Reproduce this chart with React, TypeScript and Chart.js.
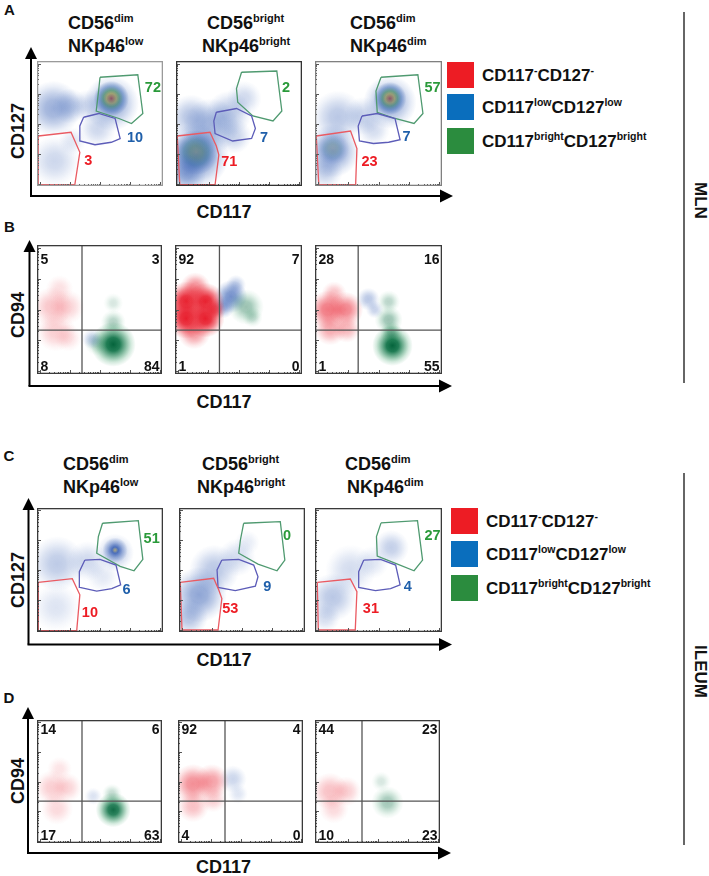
import { useEffect, useRef } from "react";
import { Chart, registerables } from "chart.js";

Chart.register(...registerables);

// [x, y, spread, density] in channel units (0-100)
type Cloud = [number, number, number, number];
type Pt = [number, number];

// ---------- data ----------
const TITLES = [
  ["CD56", "dim", "NKp46", "low"],
  ["CD56", "bright", "NKp46", "bright"],
  ["CD56", "dim", "NKp46", "dim"],
];
const LEGEND = [
  ["CD117", "-", "CD127", "-"],
  ["CD117", "low", "CD127", "low"],
  ["CD117", "bright", "CD127", "bright"],
];

// red, blue, green gate %
const GATE_PCT_A = [[3, 10, 72], [71, 7, 2], [23, 7, 57]];
const GATE_PCT_C = [[10, 6, 51], [53, 9, 0], [31, 4, 27]];

// UL, UR, LL, LR
const QUAD_B = [[5, 3, 8, 84], [92, 7, 1, 0], [28, 16, 1, 55]];
const QUAD_D = [[14, 6, 17, 63], [92, 4, 4, 0], [44, 23, 10, 23]];
const QUAD_CUT_B: Pt[] = [[36, 34], [35, 34], [34, 34]];
const QUAD_CUT_D: Pt[] = [[36, 34], [37.6, 34], [37.6, 34]];

// gates [red, blue, green]
const GATES_A: Pt[][][] = [
  [
    [[1, 40], [27, 43], [34, 27], [30, 1], [1, 1]],
    [[37, 55], [49, 58], [62, 54], [66, 38], [59, 35], [46, 33], [34, 36], [34, 48]],
    [[50, 87], [80, 89], [84, 58], [75, 50], [65, 54], [47, 60], [49, 77]],
  ],
  [
    [[1, 40], [27, 43], [32, 32], [34, 25], [31, 1], [3, 1]],
    [[32, 59], [48, 62], [60, 56], [63, 46], [60, 38], [45, 36], [31, 42], [30, 52]],
    [[52, 91], [80, 92], [84, 60], [77, 52], [61, 56], [49, 67], [48, 78]],
  ],
  [
    [[1, 40], [28, 44], [33, 30], [32, 1], [3, 1]],
    [[37, 56], [49, 58], [63, 54], [67, 37], [58, 35], [46, 34], [35, 36], [34, 48]],
    [[52, 87], [81, 89], [85, 58], [78, 50], [63, 54], [49, 59], [48, 76]],
  ],
];
const GATES_C: Pt[][][] = [
  [
    [[1, 40], [28, 43], [34, 30], [31.5, 1], [1, 1]],
    [[38, 58], [50, 58.6], [62.7, 54], [66.4, 38], [59.3, 35], [47.4, 33], [34, 36], [33.6, 48.6]],
    [[52, 87.7], [80.4, 89.8], [84, 58.6], [77, 49.4], [66, 53], [47.4, 63.5], [48.7, 77]],
  ],
  [
    [[1, 40], [27.5, 43.3], [31.5, 34], [34, 27], [31, 1.6], [2.4, 1.6]],
    [[34, 58], [47.4, 58.6], [59.3, 54], [62.7, 44.6], [60.6, 37], [44.7, 33.3], [31, 36], [30.2, 50]],
    [[51.3, 87.7], [80.4, 89], [84, 58], [77.8, 49.4], [62.7, 54.8], [47.4, 63.5], [48.7, 74]],
  ],
  [
    [[1.8, 40], [27.8, 42.7], [33, 32.5], [31.7, 1.6], [2.6, 1.6]],
    [[38.4, 58], [51.6, 58.6], [63.5, 54], [67, 38], [59.5, 35], [47.6, 33.3], [34.4, 36], [34.4, 48.6]],
    [[52, 88], [80.7, 89.8], [84.7, 58], [78, 49.4], [63.5, 55.4], [49, 61.3], [48.4, 77]],
  ],
];

// population clouds per plot
const CLOUDS_A: Record<string, Cloud[]>[] = [
  {
    blue: [
      [13, 62, 22, 0.5], [26, 64, 14, 0.32], [40, 64, 13, 0.24], [59, 66, 22, 0.55], [14, 20, 20, 0.25],
      [48, 46, 15, 0.25], [28, 36, 11, 0.15],
    ],
    hot: [[59, 70, 14, 1]],
  },
  {
    blue: [
      [16, 24, 26, 0.7], [8, 10, 16, 0.5], [28, 48, 22, 0.45], [12, 55, 18, 0.38], [42, 58, 18, 0.35],
      [54, 70, 14, 0.24], [46, 40, 14, 0.28],
    ],
    warm: [[16, 27, 18, 1]],
  },
  {
    blue: [
      [59, 67, 21, 0.55], [14, 28, 21, 0.6], [8, 12, 14, 0.32], [18, 55, 21, 0.35], [38, 56, 15, 0.28],
      [46, 45, 13, 0.22],
    ],
    warm: [[14, 30, 13, 0.45]],
    hot: [[59, 70, 13, 1]],
  },
];
const CLOUDS_B: Record<string, Cloud[]>[] = [
  {
    red: [[12, 52, 16, 0.26], [24, 52, 14, 0.2], [15, 33, 16, 0.22], [25, 28, 11, 0.14], [18, 66, 11, 0.14]],
    blue: [[44, 27, 8, 0.3]],
    green: [[61, 23, 18, 1], [61, 40, 10, 0.3], [61, 55, 8, 0.16], [48, 24, 10, 0.24]],
  },
  {
    red: [
      [9, 56, 16, 1], [24, 56, 15, 1], [9, 43, 16, 1], [24, 43, 15, 1], [15, 32, 13, 0.45],
      [16, 67, 12, 0.5], [31, 50, 9, 0.65],
    ],
    green: [[56, 52, 14, 0.4], [61, 44, 8, 0.24]],
    blue: [[44, 60, 13, 0.7], [38, 52, 9, 0.5], [48, 69, 8, 0.32]],
  },
  {
    red: [[10, 50, 15, 0.6], [24, 50, 14, 0.55], [12, 35, 13, 0.38], [25, 35, 11, 0.32], [15, 62, 10, 0.28]],
    blue: [[42, 58, 9, 0.35], [47, 50, 7, 0.28]],
    green: [[61, 22, 16, 1], [58, 42, 11, 0.4], [58, 56, 9, 0.28], [60, 32, 9, 0.42]],
  },
];
const CLOUDS_C: Record<string, Cloud[]>[] = [
  {
    blue: [[16, 55, 22, 0.33], [40, 57, 16, 0.24], [15, 20, 19, 0.17], [52, 45, 13, 0.14], [62, 64, 15, 0.35]],
    cool: [[62, 66, 10, 0.9]],
  },
  {
    blue: [[16, 30, 22, 0.56], [8, 12, 15, 0.38], [28, 50, 20, 0.35], [46, 60, 15, 0.22], [54, 72, 10, 0.12]],
  },
  {
    blue: [[14, 28, 19, 0.35], [8, 12, 12, 0.22], [28, 50, 20, 0.22], [45, 56, 13, 0.16], [60, 68, 14, 0.3]],
  },
];
const CLOUDS_D: Record<string, Cloud[]>[] = [
  {
    red: [[12, 45, 14, 0.22], [24, 45, 12, 0.19], [16, 28, 13, 0.17], [18, 60, 10, 0.12]],
    blue: [[45, 38, 7, 0.18]],
    green: [[61, 27, 14, 0.95], [60, 40, 8, 0.24]],
  },
  {
    red: [[12, 48, 16, 0.5], [27, 50, 14, 0.42], [12, 30, 13, 0.28], [28, 36, 11, 0.22]],
    blue: [[44, 52, 11, 0.26], [48, 40, 8, 0.16]],
  },
  {
    red: [[12, 42, 15, 0.28], [25, 42, 12, 0.22], [15, 28, 12, 0.17]],
    green: [[58, 33, 13, 0.37], [53, 50, 8, 0.16]],
  },
];

// log-style axis ticks
const DECADES = [2, 26, 50, 74];
const LOG_FRACTIONS = [0.301, 0.477, 0.602, 0.699, 0.778, 0.845, 0.903, 0.954];

// ---------- layout / style ----------
const FONT = '"Liberation Sans", Arial, Helvetica, sans-serif';
const GATE_LINE = ["#ea5a62", "#5c5cb8", "#4f9a70"];
const GATE_TEXT = ["#ed1c24", "#1f5faa", "#2a9a3a"];
const LEGEND_FILL = ["#ed1c24", "#0a6ebd", "#2b8c3e"];

// soft, roughly gaussian falloff
const PALETTES: Record<string, [number, string, number][]> = {
  blue: [[0, "55,95,180", 1], [0.3, "58,98,181", 0.88], [0.55, "62,102,184", 0.58], [0.8, "70,110,190", 0.22], [1, "70,110,190", 0]],
  red: [[0, "232,30,45", 1], [0.3, "232,32,47", 0.9], [0.55, "234,40,55", 0.6], [0.8, "236,60,70", 0.22], [1, "236,60,70", 0]],
  green: [[0, "5,100,60", 1], [0.3, "8,110,66", 0.9], [0.55, "20,125,75", 0.55], [0.8, "40,150,90", 0.2], [1, "40,150,90", 0]],
  hot: [
    [0, "228,70,30", 1], [0.12, "242,140,40", 1], [0.28, "240,210,50", 0.95], [0.46, "110,185,80", 0.85],
    [0.7, "55,110,175", 0.45], [1, "55,95,180", 0],
  ],
  warm: [[0, "232, 222, 70", 0.9], [0.28, "160,200,70", 0.85], [0.55, "60,140,120", 0.55], [0.8, "55,95,180", 0.2], [1, "55,95,180", 0]],
  cool: [[0, "225,195,70", 0.9], [0.25, "45,85,175", 0.9], [0.6, "55,95,180", 0.4], [1, "55,95,180", 0]],
};

const BOX_A = [[37, 61, 126, 125], [176, 61, 126, 125], [315, 61, 127, 125]];
const BOX_B = [[37, 245, 125, 129], [175, 245, 127, 129], [315, 245, 127, 129]];
const BOX_C = [[37, 508, 126, 124], [179, 508, 126, 124], [315, 508, 127, 124]];
const BOX_D = [[37, 720, 125, 123], [178, 720, 125, 123], [315, 720, 125, 123]];
const FRAME_A = ["#9a9a9a", "#333", "#808080"];

const LABEL_AT_A: Pt[][] = [
  [[40.7, 20.6], [77.8, 39], [92, 79]],
  [[42.3, 20], [69.8, 39], [87.3, 79]],
  [[43, 20], [72, 40], [92.6, 79]],
];
const LABEL_AT_C: Pt[][] = [
  [[42, 16], [71, 35], [91, 75.5]],
  [[40.7, 19], [70, 37], [85.7, 78]],
  [[44, 19], [73, 37], [92.6, 78]],
];

type PlotSpec = {
  box: number[];
  frame: string;
  clouds: Record<string, Cloud[]>;
  gates?: Pt[][];
  gatePct?: number[];
  labelAt?: Pt[];
  cut?: Pt;
  quad?: number[];
  quadTop?: number;
};

const PLOTS: PlotSpec[] = [
  ...BOX_A.map((box, i) => ({
    box, frame: FRAME_A[i], clouds: CLOUDS_A[i], gates: GATES_A[i], gatePct: GATE_PCT_A[i], labelAt: LABEL_AT_A[i],
  })),
  ...BOX_B.map((box, i) => ({
    box, frame: "#3a3a3a", clouds: CLOUDS_B[i], cut: QUAD_CUT_B[i], quad: QUAD_B[i], quadTop: 18.5,
  })),
  ...BOX_C.map((box, i) => ({
    box, frame: "#3a3a3a", clouds: CLOUDS_C[i], gates: GATES_C[i], gatePct: GATE_PCT_C[i], labelAt: LABEL_AT_C[i],
  })),
  ...BOX_D.map((box, i) => ({
    box, frame: "#3a3a3a", clouds: CLOUDS_D[i], cut: QUAD_CUT_D[i], quad: QUAD_D[i], quadTop: 13.5,
  })),
];

function cloudFill(ctx: any, key: string) {
  const chart = ctx.chart;
  const raw = ctx.raw;
  if (!raw || !chart.chartArea) return "rgba(0,0,0,0)";
  const cx = chart.scales.x.getPixelForValue(raw.x);
  const cy = chart.scales.y.getPixelForValue(raw.y);
  const r = Math.max(1, raw.r);
  const g = chart.ctx.createRadialGradient(cx, cy, 0, cx, cy, r);
  PALETTES[key].forEach(([o, c, a]) => g.addColorStop(o, `rgba(${c},${a * raw.a})`));
  return g;
}

function framePlugin(spec: PlotSpec) {
  return {
    id: "frame",
    afterDatasetsDraw(chart: any) {
      const { ctx, chartArea: ca, scales } = chart;
      ctx.save();
      ctx.strokeStyle = "#555";
      ctx.lineWidth = 1;
      ctx.beginPath();
      const ticks: [number, boolean][] = [];
      DECADES.forEach((d) => {
        ticks.push([d, true]);
        LOG_FRACTIONS.forEach((f) => ticks.push([d + f * 24, false]));
      });
      ticks.push([98, true]);
      ticks.forEach(([v, major]) => {
        const len = major ? 4 : 2;
        const px = Math.round(scales.x.getPixelForValue(v)) + 0.5;
        ctx.moveTo(px, ca.bottom);
        ctx.lineTo(px, ca.bottom - len);
        const py = Math.round(scales.y.getPixelForValue(v)) + 0.5;
        ctx.moveTo(ca.left, py);
        ctx.lineTo(ca.left + len, py);
      });
      ctx.stroke();

      ctx.strokeStyle = spec.frame;
      ctx.lineWidth = 1.3;
      ctx.strokeRect(ca.left + 0.65, ca.top + 0.65, ca.width - 1.3, ca.height - 1.3);

      if (spec.gatePct && spec.labelAt) {
        ctx.font = `bold 14.5px ${FONT}`;
        ctx.textAlign = "center";
        ctx.textBaseline = "middle";
        spec.gatePct.forEach((p, i) => {
          const [lx, ly] = spec.labelAt![i];
          ctx.fillStyle = GATE_TEXT[i];
          ctx.fillText(String(p), scales.x.getPixelForValue(lx), scales.y.getPixelForValue(ly) + 1);
        });
      }
      if (spec.quad) {
        ctx.font = `bold 14px ${FONT}`;
        ctx.fillStyle = "#111";
        ctx.textBaseline = "alphabetic";
        const [ul, ur, ll, lr] = spec.quad;
        const top = ca.top + (spec.quadTop ?? 18);
        const bot = ca.bottom - 3.5;
        ctx.textAlign = "left";
        ctx.fillText(String(ul), ca.left + 3.5, top);
        ctx.fillText(String(ll), ca.left + 3.5, bot);
        ctx.textAlign = "right";
        ctx.fillText(String(ur), ca.right - 2.5, top);
        ctx.fillText(String(lr), ca.right - 2.5, bot);
      }
      ctx.restore();
    },
  };
}

function FlowPlot({ spec }: { spec: PlotSpec }) {
  const canvasRef = useRef<HTMLCanvasElement>(null);
  const [left, top, w, h] = spec.box;

  useEffect(() => {
    if (!canvasRef.current) return;
    const pxPerUnit = w / 100;
    const datasets: any[] = [];
    Object.entries(spec.clouds).forEach(([key, list]) => {
      datasets.push({
        type: "bubble",
        data: list.map(([x, y, s, a]) => ({ x, y, r: s * pxPerUnit, a })),
        backgroundColor: (c: any) => cloudFill(c, key),
        borderWidth: 0,
        clip: 0,
        order: 2,
      });
    });
    (spec.gates || []).forEach((poly, i) => {
      datasets.push({
        type: "line",
        data: [...poly, poly[0]].map(([x, y]) => ({ x, y })),
        borderColor: GATE_LINE[i],
        borderWidth: 1.3,
        pointRadius: 0,
        fill: false,
        tension: 0,
        order: 0,
      });
    });
    if (spec.cut) {
      const [qx, qy] = spec.cut;
      [
        [{ x: qx, y: 0 }, { x: qx, y: 100 }],
        [{ x: 0, y: qy }, { x: 100, y: qy }],
      ].forEach((data) =>
        datasets.push({
          type: "line",
          data,
          borderColor: "#555",
          borderWidth: 1.3,
          pointRadius: 0,
          fill: false,
          order: 0,
        }),
      );
    }

    const chart = new Chart(canvasRef.current, {
      type: "scatter",
      data: { datasets },
      options: {
        animation: false,
        responsive: false,
        events: [],
        layout: { padding: 0, autoPadding: false },
        plugins: { legend: { display: false }, tooltip: { enabled: false } },
        scales: {
          x: { type: "linear", min: 0, max: 100, display: false },
          y: { type: "linear", min: 0, max: 100, display: false },
        },
      },
      plugins: [framePlugin(spec)],
    } as any);
    return () => chart.destroy();
  }, [spec]);

  return (
    <canvas
      ref={canvasRef}
      width={w}
      height={h}
      style={{ position: "absolute", left, top, width: w, height: h }}
    />
  );
}

const supStyle: React.CSSProperties = {
  verticalAlign: "baseline",
  position: "relative",
  top: "-0.62em",
};

function Sup({ base, sup, size }: { base: string; sup: string; size: number }) {
  return (
    <>
      {base}
      <span style={{ ...supStyle, fontSize: size }}>{sup}</span>
    </>
  );
}

const TITLE_LEFT = [
  [[68, 68], [207, 202], [350, 350]],
  [[63, 63], [202, 197], [345, 347]],
];
const TITLE_Y = [[14, 36.5], [455, 477.5]];

function Arrow({ x, tip, y, end }: { x: number; tip: number; y: number; end: number }) {
  return (
    <g fill="#000" stroke="#000">
      <line x1={x} y1={y} x2={x} y2={tip + 11} strokeWidth={2} />
      <line x1={x - 1} y1={y} x2={end - 11} y2={y} strokeWidth={2} />
      <polygon points={`${x - 6},${tip + 12} ${x + 6},${tip + 12} ${x},${tip}`} stroke="none" />
      <polygon points={`${end - 13},${y - 6.5} ${end - 13},${y + 6.5} ${end},${y}`} stroke="none" />
    </g>
  );
}

const ARROWS = [
  { x: 31, tip: 47, y: 196, end: 453 },
  { x: 29.5, tip: 240, y: 386, end: 452 },
  { x: 28.5, tip: 498, y: 644.5, end: 452 },
  { x: 28, tip: 707, y: 853, end: 451 },
];

const AXIS_LABELS: [string, number, number, boolean][] = [
  ["CD127", 17.5, 130.5, true],
  ["CD117", 224, 211.5, false],
  ["CD94", 17.5, 314.5, true],
  ["CD117", 224, 401.5, false],
  ["CD127", 17.5, 580, true],
  ["CD117", 224, 659.5, false],
  ["CD94", 17.5, 780.5, true],
  ["CD117", 223.5, 866.5, false],
];

const LETTERS: [string, number, number][] = [
  ["A", 4, 9.5],
  ["B", 4, 226.5],
  ["C", 3.5, 455.5],
  ["D", 3.5, 697],
];

const LEGEND_POS = [
  { x: 447, ys: [62, 94, 128], tx: 482 },
  { x: 451, ys: [508, 541, 575], tx: 486 },
];

export default function App() {
  return (
    <div
      style={{
        position: "relative",
        width: 709,
        height: 876,
        background: "#fff",
        fontFamily: FONT,
        fontWeight: "bold",
        color: "#111",
        overflow: "hidden",
      }}
    >
      <style>{`body{margin:0}`}</style>

      {LETTERS.map(([t, x, y]) => (
        <div key={t} style={{ position: "absolute", left: x, top: y - 7.5, fontSize: 15, lineHeight: 1 }}>
          {t}
        </div>
      ))}

      {TITLE_LEFT.map((panel, p) =>
        panel.map((lines, i) =>
          lines.map((lx, l) => (
            <div
              key={`${p}-${i}-${l}`}
              style={{ position: "absolute", left: lx, top: TITLE_Y[p][l], fontSize: 18, lineHeight: 1, whiteSpace: "nowrap" }}
            >
              <Sup base={TITLES[i][l * 2]} sup={TITLES[i][l * 2 + 1]} size={11} />
            </div>
          )),
        ),
      )}

      {AXIS_LABELS.map(([t, cx, cy, rot], i) => (
        <div
          key={i}
          style={{
            position: "absolute",
            left: cx - 50,
            top: cy - 9,
            width: 100,
            fontSize: 18,
            lineHeight: "18px",
            textAlign: "center",
            transform: rot ? "rotate(-90deg)" : undefined,
          }}
        >
          {t}
        </div>
      ))}

      {LEGEND_POS.map((lg, p) =>
        LEGEND.map((parts, i) => (
          <div key={`${p}-${i}`}>
            <div
              style={{
                position: "absolute",
                left: lg.x,
                top: lg.ys[i],
                width: 27,
                height: 26,
                background: LEGEND_FILL[i],
              }}
            />
            <div
              style={{
                position: "absolute",
                left: lg.tx,
                top: lg.ys[i] + 13 - 8.5,
                fontSize: 17,
                lineHeight: 1,
                whiteSpace: "nowrap",
              }}
            >
              <Sup base={parts[0]} sup={parts[1]} size={10.5} />
              <Sup base={parts[2]} sup={parts[3]} size={10.5} />
            </div>
          </div>
        )),
      )}

      {(
        [
          ["MLN", 700, 200],
          ["ILEUM", 700, 671],
        ] as [string, number, number][]
      ).map(([t, cx, cy]) => (
        <div
          key={t}
          style={{
            position: "absolute",
            left: cx - 50,
            top: cy - 8.5,
            width: 100,
            fontSize: 17,
            lineHeight: "17px",
            textAlign: "center",
            transform: "rotate(90deg)",
          }}
        >
          {t}
        </div>
      ))}

      <svg
        width={709}
        height={876}
        style={{ position: "absolute", left: 0, top: 0, pointerEvents: "none" }}
      >
        {ARROWS.map((a, i) => (
          <Arrow key={i} {...a} />
        ))}
        <line x1={684} y1={12} x2={684} y2={383} stroke="#333" strokeWidth={1.5} />
        <line x1={684} y1={473} x2={684} y2={845} stroke="#333" strokeWidth={1.5} />
      </svg>

      {PLOTS.map((spec, i) => (
        <FlowPlot key={i} spec={spec} />
      ))}
    </div>
  );
}
